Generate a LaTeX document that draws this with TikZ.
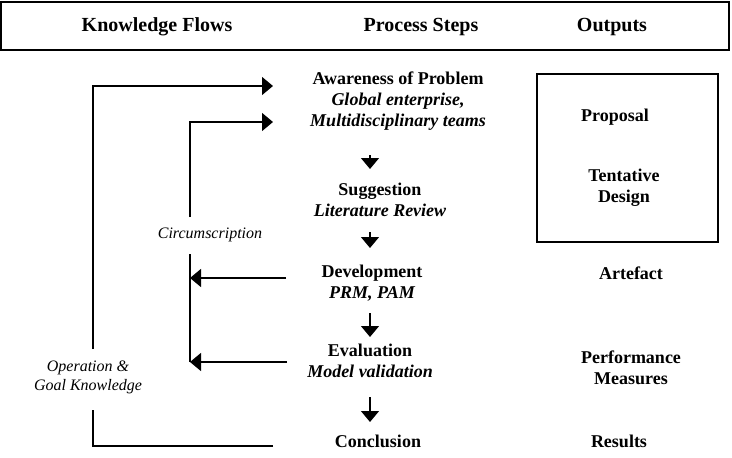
\documentclass[tikz,border=0pt]{standalone}
\usepackage{fontspec}
\setmainfont{Liberation Serif}
\usetikzlibrary{arrows.meta}
\tikzset{
  flow/.style={-{Triangle[length=11pt,width=18pt]}, line width=1.2pt},
  plainline/.style={line width=1.2pt},
  stepnode/.style={align=center, inner sep=0pt, font=\fontsize{18}{21}\selectfont\bfseries},
  headnode/.style={inner sep=0pt, font=\fontsize{20}{24}\selectfont\bfseries},
  knownode/.style={align=center, inner sep=0pt, font=\fontsize{16}{19}\selectfont\itshape},
}
\begin{document}
\begin{tikzpicture}[x=1pt,y=-1pt]
  \useasboundingbox (0,0) rectangle (732,458);
  % header bar
  \draw[line width=1.4pt] (1,2) rectangle (729,50);
  \node[headnode] (hknow) at (157,27) {Knowledge Flows};
  \node[headnode] (hsteps) at (421,27) {Process Steps};
  \node[headnode] (hout) at (612,27) {Outputs};

  % process steps
  \node[stepnode] (aware) at (398,101.5) {Awareness of Problem\\ \itshape Global enterprise,\\ \itshape Multidisciplinary teams};
  \node[stepnode] (suggest) at (380,200) {Suggestion\\ \itshape Literature Review};
  \node[stepnode] (develop) at (372,283) {Development\\ \itshape PRM, PAM};
  \node[stepnode] (evaluate) at (370,361) {Evaluation\\ \itshape Model validation};
  \node[stepnode] (conclude) at (378,441) {Conclusion};

  \foreach \i/\top/\tip in {1/155/169, 2/232/248, 3/313/337, 4/397/422} {
    \coordinate (s\i) at (370,\top);
    \coordinate (t\i) at (370,\tip);
    \draw[flow] (s\i) -- (t\i);
  }

  % outputs
  \draw[line width=1.3pt] (537,74) rectangle (718,242);
  \node[stepnode] (proposal) at (615,117) {Proposal};
  \node[stepnode] (tentative) at (624,188) {Tentative\\ Design};
  \node[stepnode] (artefact) at (631,273) {Artefact};
  \node[stepnode] (perf) at (631,367.5) {Performance\\ Measures};
  \node[stepnode] (results) at (619,441) {Results};

  % knowledge flows
  \node[knownode] (circ) at (210,235) {Circumscription};
  \node[knownode] (opknow) at (88,377.5) {Operation \&\\ Goal Knowledge};

  \coordinate (dev in) at (286,278);
  \coordinate (eval in) at (287,362);
  \coordinate (c low) at (190,254);
  \coordinate (c high) at (190,217);
  \coordinate (c tip) at (273,122);
  \draw[flow] (dev in) -- (dev in -| c low);
  \draw[flow] (eval in) -- (eval in -| c low);
  \draw[plainline] (eval in -| c low) -- (c low);
  \draw[flow] (c high) |- (c tip);

  \coordinate (o start) at (273,446);
  \coordinate (o low) at (93,410);
  \coordinate (o high) at (93,349);
  \coordinate (o tip) at (273,86);
  \draw[plainline] (o start) -| (o low);
  \draw[flow] (o high) |- (o tip);
\end{tikzpicture}
\end{document}
